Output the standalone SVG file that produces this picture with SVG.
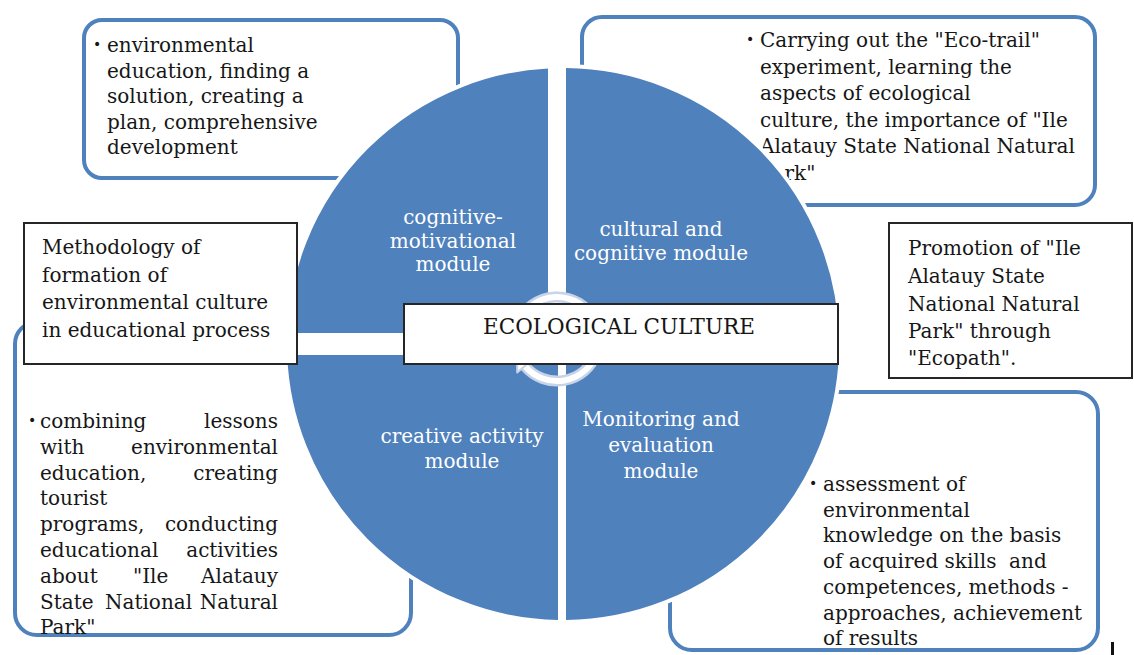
<svg xmlns="http://www.w3.org/2000/svg" width="1134" height="655" viewBox="0 0 1134 655">
  <style>
    .card { fill: #fff; stroke: #4f81bd; stroke-width: 4; }
    .t { font-family: "DejaVu Serif", "Liberation Serif", serif; font-size: 20px; fill: #161616; }
    .bul { font-family: "DejaVu Sans", sans-serif; font-size: 14px; fill: #161616; }
    .e { text-anchor: end; }
    .w { font-family: "DejaVu Serif", "Liberation Serif", serif; font-size: 20px; fill: #fff; text-anchor: middle; }
    .frame { fill: #fff; stroke: #262626; stroke-width: 2; }
    .seg { fill: #4f81bd; stroke: #fff; stroke-width: 4; }
    .ring-edge { fill: none; stroke: #c6d3e8; stroke-width: 11; }
    .ring-core { fill: none; stroke: #fff; stroke-width: 6; }
    .head { fill: #fff; stroke: #c6d3e8; stroke-width: 2; stroke-linejoin: round; }
  </style>
  <defs>
    <clipPath id="q-tl"><rect x="0" y="0" width="548" height="333"/></clipPath>
    <clipPath id="q-tr"><rect x="566" y="0" width="568" height="340"/></clipPath>
    <clipPath id="q-bl"><rect x="0" y="355" width="558" height="300"/></clipPath>
    <clipPath id="q-br"><rect x="566" y="355" width="568" height="300"/></clipPath>
    <clipPath id="promo-clip"><rect x="888" y="222" width="246" height="147"/></clipPath>
  </defs>

  <!-- corner cards (behind the wheel) -->
  <g id="card-cognitive">
    <rect class="card" x="84" y="20" width="374" height="158" rx="18"/>
    <text class="bul" x="93" y="49">•</text>
    <text class="t" x="107">
      <tspan x="107" y="52">environmental</tspan>
      <tspan x="107" y="77.5">education, finding a</tspan>
      <tspan x="107" y="103">solution, creating a</tspan>
      <tspan x="107" y="128.5">plan, comprehensive</tspan>
      <tspan x="107" y="154">development</tspan>
    </text>
  </g>

  <g id="card-cultural">
    <rect class="card" x="582" y="17" width="513" height="188" rx="20"/>
    <text class="bul" x="746" y="44">•</text>
    <text class="t">
      <tspan x="760" y="47">Carrying out the "Eco-trail"</tspan>
      <tspan x="760" y="73.5">experiment, learning the</tspan>
      <tspan x="760" y="100">aspects of ecological</tspan>
      <tspan x="760" y="126.5">culture, the importance of "Ile</tspan>
      <tspan x="760" y="153">Alatauy State National Natural</tspan>
      <tspan x="760" y="179.5">Park"</tspan>
    </text>
  </g>

  <g id="card-creative">
    <rect class="card" x="15" y="322" width="396" height="313" rx="22"/>
    <text class="bul" x="28" y="425">•</text>
    <g class="t">
      <text x="40" y="428">combining</text><text class="e" x="278" y="428">lessons</text>
      <text x="40" y="454">with</text><text class="e" x="278" y="454">environmental</text>
      <text x="40" y="480">education,</text><text class="e" x="278" y="480">creating</text>
      <text x="40" y="505">tourist</text>
      <text x="40" y="531">programs,</text><text class="e" x="278" y="531">conducting</text>
      <text x="40" y="557">educational</text><text class="e" x="278" y="557">activities</text>
      <text x="40" y="583">about</text><text x="133" y="583">"Ile</text><text class="e" x="278" y="583">Alatauy</text>
      <text x="40" y="609">State</text><text x="105" y="609">National</text><text class="e" x="278" y="609">Natural</text>
      <text x="40" y="634">Park"</text>
    </g>
  </g>

  <g id="card-monitoring">
    <rect class="card" x="670" y="392" width="428" height="258" rx="22"/>
    <text class="bul" x="809" y="488">•</text>
    <text class="t" style="white-space:pre">
      <tspan x="823" y="491">assessment of</tspan>
      <tspan x="823" y="517">environmental</tspan>
      <tspan x="823" y="542">knowledge on the basis</tspan>
      <tspan x="823" y="568">of acquired skills  and</tspan>
      <tspan x="823" y="594">competences, methods -</tspan>
      <tspan x="823" y="620">approaches, achievement</tspan>
      <tspan x="823" y="645">of results</tspan>
    </text>
  </g>

  <!-- four quarter segments of the wheel -->
  <g id="seg-cognitive-motivational">
    <circle class="seg" cx="563" cy="344" r="278" clip-path="url(#q-tl)"/>
    <text class="w"><tspan x="453" y="224">cognitive-</tspan><tspan x="453" y="248">motivational</tspan><tspan x="453" y="271">module</tspan></text>
  </g>
  <g id="seg-cultural-cognitive">
    <circle class="seg" cx="563" cy="344" r="278" clip-path="url(#q-tr)"/>
    <text class="w"><tspan x="661" y="236">cultural and</tspan><tspan x="661" y="260">cognitive module</tspan></text>
  </g>
  <g id="seg-creative-activity">
    <circle class="seg" cx="563" cy="344" r="278" clip-path="url(#q-bl)"/>
    <text class="w"><tspan x="462" y="443">creative activity</tspan><tspan x="462" y="468">module</tspan></text>
  </g>
  <g id="seg-monitoring">
    <circle class="seg" cx="563" cy="344" r="278" clip-path="url(#q-br)"/>
    <text class="w"><tspan x="661" y="426">Monitoring and</tspan><tspan x="661" y="452">evaluation</tspan><tspan x="661" y="478">module</tspan></text>
  </g>

  <!-- circular arrows in the hub -->
  <g id="connectors">
    <path class="ring-edge" d="M517.5 324.6 A42 42 0 0 1 595.1 321.3"/>
    <path class="ring-edge" d="M596.5 353.4 A42 42 0 0 1 524.8 366"/>
    <path class="ring-core" d="M517.5 324.6 A42 42 0 0 1 595.1 321.3"/>
    <path class="ring-core" d="M596.5 353.4 A42 42 0 0 1 524.8 366"/>
    <polygon class="head" points="604.1,317 586,325.5 600.2,332.2"/>
    <polygon class="head" points="517.2,372.4 532.5,359.6 517.1,356.8"/>
  </g>

  <g id="hub-ecological-culture">
    <rect class="frame" x="404" y="304" width="434" height="60"/>
    <text class="t" x="619" y="334" text-anchor="middle" style="font-size:21.5px">ECOLOGICAL CULTURE</text>
  </g>

  <g id="note-methodology">
    <rect class="frame" x="24" y="223" width="273" height="141"/>
    <text class="t">
      <tspan x="42" y="254">Methodology of</tspan>
      <tspan x="42" y="282">formation of</tspan>
      <tspan x="42" y="309">environmental culture</tspan>
      <tspan x="42" y="337">in educational process</tspan>
    </text>
  </g>

  <g id="note-promotion">
    <rect class="frame" x="889" y="223" width="243" height="155"/>
    <text class="t" clip-path="url(#promo-clip)">
      <tspan x="908" y="255">Promotion of "Ile</tspan>
      <tspan x="908" y="283">Alatauy State</tspan>
      <tspan x="908" y="311">National Natural</tspan>
      <tspan x="908" y="338">Park" through</tspan>
      <tspan x="908" y="365">"Ecopath".</tspan>
    </text>
  </g>

  <rect x="1111" y="642" width="3" height="13" fill="#111"/>
</svg>
